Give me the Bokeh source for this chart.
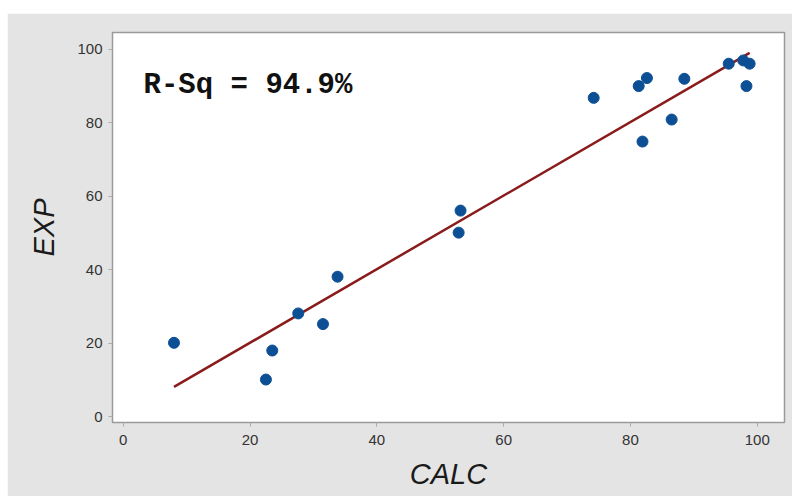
import numpy as np
from bokeh.plotting import figure
from bokeh.models import Range1d, Label, FixedTicker, Spacer
from bokeh.layouts import column, row
from bokeh.embed import file_html
from bokeh.resources import INLINE

# Data
calc = [8.0, 22.5, 23.5, 27.6, 31.5, 33.8, 52.9, 53.2, 74.2, 81.3, 81.9, 82.6, 86.5, 88.5, 95.5, 97.8, 98.3, 98.8]
exp_ = [20.1, 10.1, 18.0, 28.1, 25.2, 38.1, 50.1, 56.1, 86.8, 90.0, 74.9, 92.2, 80.9, 92.0, 96.1, 97.0, 90.0, 96.1]
x_ticks = [0, 20, 40, 60, 80, 100]
y_ticks = [0, 20, 40, 60, 80, 100]
rsq_text = "R-Sq = 94.9%"

BG = "#e4e4e4"

p = figure(width=785, height=483, output_backend="svg", toolbar_location=None,
           x_range=Range1d(-1.7, 104.3), y_range=Range1d(-1.6, 104.6),
           min_border_left=105, min_border_right=8, min_border_top=19, min_border_bottom=74)
p.background_fill_color = "white"
p.border_fill_color = BG
p.outline_line_color = "#9a9a9a"
p.outline_line_width = 1.5
p.xgrid.visible = False
p.ygrid.visible = False

# regression fit computed from the data
slope, intercept = np.polyfit(calc, exp_, 1)
xs = [min(calc), max(calc)]
ys = [intercept + slope * v for v in xs]
p.line(xs, ys, line_color="#8a1b1b", line_width=2.5)

p.scatter(calc, exp_, size=11, fill_color="#0d4f94", line_color="#0d4f94")

for ax, ticks in ((p.xaxis, x_ticks), (p.yaxis, y_ticks)):
    ax.ticker = FixedTicker(ticks=ticks)
    ax.axis_line_color = None
    ax.major_tick_line_color = "#aaaaaa"
    ax.major_tick_out = 4
    ax.major_tick_in = 0
    ax.minor_tick_line_color = None
    ax.major_label_text_font = "Liberation Sans"
    ax.major_label_text_font_size = "15px"
    ax.major_label_text_color = "#333333"
    ax.axis_label_text_font = "Liberation Sans"
    ax.axis_label_text_font_size = "29px"
    ax.axis_label_text_font_style = "italic"
    ax.axis_label_text_color = "#1a1a1a"

p.xaxis.axis_label = "CALC"
p.yaxis.axis_label = "EXP"
p.xaxis.major_label_standoff = 8
p.yaxis.major_label_standoff = 6
p.xaxis.axis_label_standoff = 10
p.yaxis.axis_label_standoff = 14

lab = Label(x=3.2, y=90.1, text=rsq_text,
            text_font="Liberation Mono", text_font_style="bold", text_font_size="29px",
            text_color="#111111", text_baseline="alphabetic")
p.add_layout(lab)

layout = column(Spacer(width=792, height=13),
                row(Spacer(width=7, height=483), p, spacing=0),
                spacing=0)
open("out.html", "w").write(file_html(layout, INLINE))
